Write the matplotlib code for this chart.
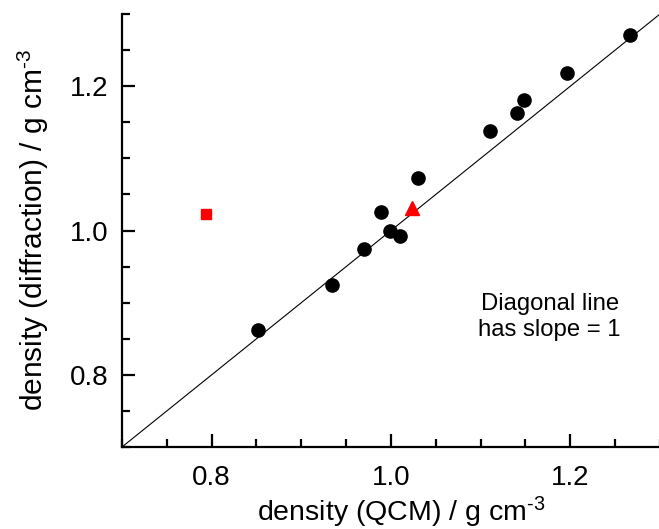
import numpy as np
import matplotlib
matplotlib.use('Agg')
import matplotlib.pyplot as plt
from matplotlib.ticker import MultipleLocator

plt.rcParams['font.family'] = ['Liberation Sans', 'DejaVu Sans']
plt.rcParams['mathtext.fontset'] = 'custom'
plt.rcParams['mathtext.rm'] = 'Liberation Sans'
plt.rcParams['mathtext.default'] = 'regular'

# density data (g cm^-3)
qcm = [0.852, 0.934, 0.970, 0.989, 0.999, 1.010, 1.030, 1.110, 1.141, 1.148, 1.196, 1.267]
diffraction = [0.862, 0.924, 0.974, 1.025, 0.999, 0.992, 1.073, 1.138, 1.163, 1.181, 1.218, 1.271]

square_x = [0.794]
square_y = [1.023]
triangle_x = [1.023]
triangle_y = [1.031]

diag = [0.7, 1.3]


def plot_density():
    fig = plt.figure(figsize=(6.59, 5.29), dpi=100)
    ax = fig.add_axes([0.1851, 0.1550, 0.8164, 0.8185])

    ax.plot(diag, diag, color='black', lw=0.8)
    ax.plot(qcm, diffraction, 'o', color='black', ms=9.5, zorder=3)
    ax.plot(square_x, square_y, 's', color='red', ms=7, zorder=3)
    ax.plot(triangle_x, triangle_y, '^', color='red', ms=9.5, zorder=3)

    ax.set_xlim(0.7, 1.3)
    ax.set_ylim(0.7, 1.3)
    ax.xaxis.set_major_locator(MultipleLocator(0.2))
    ax.xaxis.set_minor_locator(MultipleLocator(0.05))
    ax.yaxis.set_major_locator(MultipleLocator(0.2))
    ax.yaxis.set_minor_locator(MultipleLocator(0.05))
    ax.xaxis.set_major_formatter(plt.FormatStrFormatter('%.1f'))
    ax.yaxis.set_major_formatter(plt.FormatStrFormatter('%.1f'))

    for s in ['top', 'right']:
        ax.spines[s].set_visible(False)
    for s in ['left', 'bottom']:
        ax.spines[s].set_linewidth(1.6)

    ax.tick_params(which='both', direction='in', width=1.6, labelsize=20)
    ax.tick_params(which='major', length=9.5)
    ax.tick_params(which='minor', length=6)
    ax.tick_params(axis='x', pad=13)
    ax.tick_params(axis='y', pad=10)

    ax.text(1.177, 0.880, 'Diagonal line\nhas slope = 1', fontsize=17.2,
            ha='center', va='center', linespacing=1.2)

    fig.text(0.608, 0.032, r'density (QCM) / g cm$^{\text{-}3}$', fontsize=20.5,
             ha='center', va='center')
    fig.text(0.050, 0.565, r'density (diffraction) / g cm$^{\text{-}3}$', fontsize=21.5,
             ha='center', va='center', rotation=90)

    fig.savefig('out.png', dpi=100)


if __name__ == "__main__":
    plot_density()
